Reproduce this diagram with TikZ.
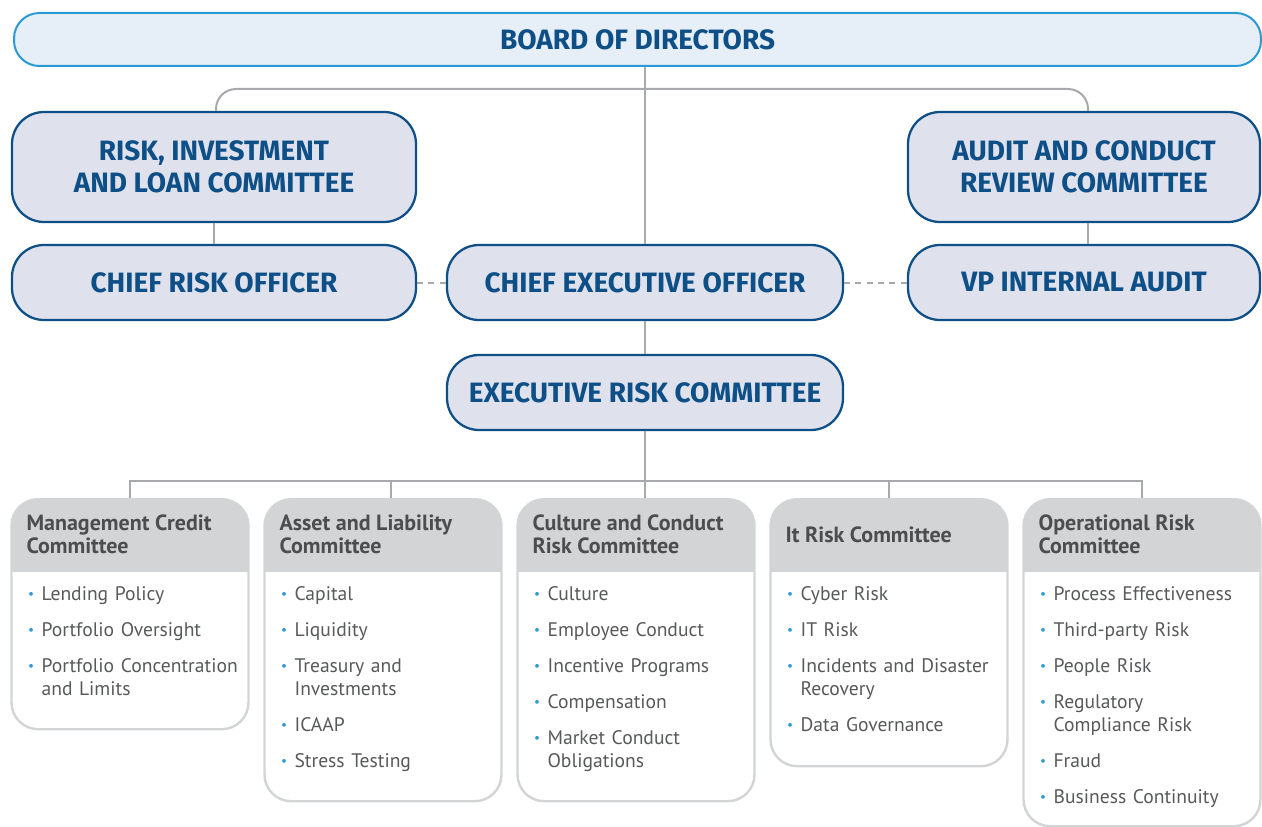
\documentclass[tikz,border=0pt]{standalone}
\usepackage{fontspec}
\setmainfont{PT Sans}
\newfontfamily\capsfont{Fira Sans}

\definecolor{navy}{HTML}{0D4F86}
\definecolor{navyfill}{HTML}{DFE2EC}
\definecolor{skyline}{HTML}{2A9AD6}
\definecolor{skyfill}{HTML}{E6EEF8}
\definecolor{connector}{HTML}{A8A9AD}
\definecolor{panel}{HTML}{D3D4D6}
\definecolor{headtext}{HTML}{4D4D4F}
\definecolor{itemtext}{HTML}{58595B}

% one bullet point of a committee list
\newcommand{\itm}[1]{\par\hangindent=10.5pt\hangafter=1\noindent
  \makebox[10.5pt][l]{\hspace{0.4pt}\textcolor{skyline}{\fontsize{10pt}{10pt}\selectfont\raisebox{1pt}{\textbullet}}}\strut#1\par}

\begin{document}
\begin{tikzpicture}[x=0.75pt,y=-0.75pt,
  tbox/.style={draw=navy,line width=1.7pt,fill=navyfill,rounded corners=24pt,
    text=navy,align=center,inner sep=0pt,
    font=\capsfont\bfseries\fontsize{21}{24.3}\selectfont},
  conn/.style={draw=connector,line width=1.5pt},
  cbox/.style={draw=panel,line width=1.8pt,fill=white,rounded corners=20pt,
    anchor=north,minimum width=177.75pt,inner sep=0pt,
    path picture={\fill[panel,sharp corners] (path picture bounding box.north west)
      rectangle ([yshift=-54.75pt]path picture bounding box.north east);}},
  chead/.style={anchor=west,align=left,inner sep=0pt,text=headtext,
    font=\bfseries\fontsize{16.5}{17.6}\selectfont},
  clist/.style={anchor=north west,inner sep=0pt,text width=172pt,text=itemtext,
    font=\fontsize{14.7}{17.25}\selectfont,
    execute at begin node={\setlength{\parskip}{9.75pt}\rightskip=0pt plus 1fil}}]

\useasboundingbox (0,0) rectangle (1262,827);

% governance boxes
\node[tbox,draw=skyline,line width=1.5pt,fill=skyfill,rounded corners=19pt,
  minimum width=935.25pt,minimum height=39.75pt] (board) at (637.5,39.5) {BOARD OF DIRECTORS};
\node[tbox,minimum width=303pt,minimum height=82.5pt] (rilc) at (214,167) {RISK, INVESTMENT\\AND LOAN COMMITTEE};
\node[tbox,minimum width=264pt,minimum height=82.5pt] (acrc) at (1084,167) {AUDIT AND CONDUCT\\REVIEW COMMITTEE};
\node[tbox,minimum width=303pt,minimum height=56.25pt] (cro) at (214,282.5) {CHIEF RISK OFFICER};
\node[tbox,minimum width=297pt,minimum height=56.25pt] (ceo) at (645,282.5) {CHIEF EXECUTIVE OFFICER};
\node[tbox,minimum width=264pt,minimum height=56.25pt] (vpia) at (1084,282.5) {VP INTERNAL AUDIT};
\node[tbox,minimum width=297pt,minimum height=56.25pt] (erc) at (645,392.5) {EXECUTIVE RISK COMMITTEE};

% management committees
\node[cbox,minimum height=172.5pt] (mcc) at (130,498) {};
\node[cbox,minimum height=226.5pt] (alc) at (383,498) {};
\node[cbox,minimum height=226.5pt] (ccrc) at (636,498) {};
\node[cbox,minimum height=200.25pt] (itrc) at (889,498) {};
\node[cbox,minimum height=245.25pt] (orc) at (1142,498) {};

\node[chead] (mcch) at ([xshift=12pt,yshift=-27.4pt]mcc.north west) {Management Credit\\Committee};
\node[chead] (alch) at ([xshift=12pt,yshift=-27.4pt]alc.north west) {Asset and Liability\\Committee};
\node[chead] (ccrch) at ([xshift=12pt,yshift=-27.4pt]ccrc.north west) {Culture and Conduct\\Risk Committee};
\node[chead] (itrch) at ([xshift=12pt,yshift=-27.4pt]itrc.north west) {It Risk Committee};
\node[chead] (orch) at ([xshift=12pt,yshift=-27.4pt]orc.north west) {Operational Risk\\Committee};

\node[clist] (mccl) at ([xshift=12.75pt,yshift=-49.5pt]mcc.north west) {%
  \itm{Lending Policy}\itm{Portfolio Oversight}\itm{Portfolio Concentration\newline and Limits}};
\node[clist] (alcl) at ([xshift=12.75pt,yshift=-49.5pt]alc.north west) {%
  \itm{Capital}\itm{Liquidity}\itm{Treasury and\newline Investments}\itm{ICAAP}\itm{Stress Testing}};
\node[clist] (ccrcl) at ([xshift=12.75pt,yshift=-49.5pt]ccrc.north west) {%
  \itm{Culture}\itm{Employee Conduct}\itm{Incentive Programs}\itm{Compensation}%
  \itm{Market Conduct\newline Obligations}};
\node[clist] (itrcl) at ([xshift=12.75pt,yshift=-49.5pt]itrc.north west) {%
  \itm{Cyber Risk}\itm{IT Risk}\itm{Incidents and Disaster\newline Recovery}\itm{Data Governance}};
\node[clist] (orcl) at ([xshift=12.75pt,yshift=-49.5pt]orc.north west) {%
  \itm{Process Effectiveness}\itm{Third-party Risk}\itm{People Risk}%
  \itm{Regulatory\newline Compliance Risk}\itm{Fraud}\itm{Business Continuity}};

% reporting lines
\coordinate (bar) at (645,89);
\coordinate (split) at (645,481);
\draw[conn] (board.south -| ceo.north) -- (ceo.north);
\draw[conn] (ceo.south) -- (erc.north);
\draw[conn,rounded corners=15pt] ([xshift=1.5pt]rilc.north) |- (bar) -| ([xshift=3pt]acrc.north);
\draw[conn] (rilc.south) -- (cro.north);
\draw[conn] ([xshift=3pt]acrc.south) -- ([xshift=3pt]vpia.north);
\draw[conn,dash pattern=on 4.5pt off 4pt] (cro.east) -- (ceo.west);
\draw[conn,dash pattern=on 4.5pt off 4pt] (ceo.east) -- (vpia.west);
\draw[conn] (erc.south) -- (ccrc.north -| erc.south);
\draw[conn] (mcc.north) |- (split) -| (orc.north);
\draw[conn] ([xshift=6pt]alc.north) -- ([xshift=6pt]alc.north |- split);
\draw[conn] (itrc.north) -- (itrc.north |- split);
\end{tikzpicture}
\end{document}
